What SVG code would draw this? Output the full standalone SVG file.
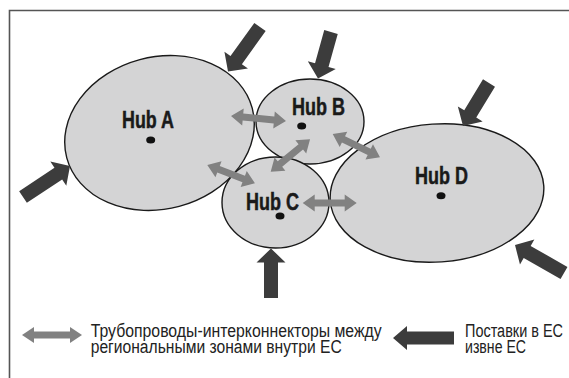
<svg xmlns="http://www.w3.org/2000/svg" width="569" height="378" viewBox="0 0 569 378">
<style>
.hub{fill:#d4d4d5;stroke:#1a1a1a;stroke-width:1.4}
.dot{fill:#111}
.lbl{font-family:"Liberation Sans","DejaVu Sans",sans-serif;font-weight:bold;font-size:23px;fill:#1a1a1a;stroke:#1a1a1a;stroke-width:0.5}
.leg{font-family:"Liberation Sans","DejaVu Sans",sans-serif;font-size:18px;fill:#222}
.pipe{fill:#818181}
.sup{fill:#3c3c3c}
</style>
<rect width="569" height="378" fill="#fff"/>
<path d="M9.5,378 V10.5 H569" fill="none" stroke="#555" stroke-width="1.6"/>
<g id="hubA"><ellipse class="hub" cx="159.5" cy="133" rx="96" ry="76" transform="rotate(-15 159.5 133)"/><ellipse class="dot" cx="150.7" cy="140" rx="4.5" ry="3.5"/><text class="lbl" x="122" y="128" textLength="52" lengthAdjust="spacingAndGlyphs">Hub A</text></g>
<g id="hubB"><ellipse class="hub" cx="310" cy="121.5" rx="54" ry="42.5"/><ellipse class="dot" cx="301.7" cy="126" rx="4.5" ry="3.5"/><text class="lbl" x="292" y="115" textLength="53" lengthAdjust="spacingAndGlyphs">Hub B</text></g>
<g id="hubC"><ellipse class="hub" cx="275.5" cy="202.5" rx="53.5" ry="45.5"/><ellipse class="dot" cx="280" cy="216" rx="4.5" ry="3.5"/><text class="lbl" x="246" y="210" textLength="53" lengthAdjust="spacingAndGlyphs">Hub C</text></g>
<g id="hubD"><ellipse class="hub" cx="437" cy="193" rx="107" ry="69" transform="rotate(-4 437 193)"/><ellipse class="dot" cx="441" cy="195.7" rx="4.5" ry="3.5"/><text class="lbl" x="415" y="184" textLength="53" lengthAdjust="spacingAndGlyphs">Hub D</text></g>
<g id="connectors">
<g transform="translate(231,116) rotate(5.2)"><polygon class="pipe" points="0,0 12,-8.5 12,-3.5 43.2,-3.5 43.2,-8.5 55.2,0 43.2,8.5 43.2,3.5 12,3.5 12,8.5"/></g>
<g transform="translate(207.3,165) rotate(21)"><polygon class="pipe" points="0,0 12,-8.5 12,-3.5 39,-3.5 39,-8.5 51,0 39,8.5 39,3.5 12,3.5 12,8.5"/></g>
<g transform="translate(270.7,171.7) rotate(-39.5)"><polygon class="pipe" points="0,0 12,-8.5 12,-3.5 39,-3.5 39,-8.5 51,0 39,8.5 39,3.5 12,3.5 12,8.5"/></g>
<g transform="translate(332.7,134) rotate(26.2)"><polygon class="pipe" points="0,0 12,-8.5 12,-3.5 40.7,-3.5 40.7,-8.5 52.7,0 40.7,8.5 40.7,3.5 12,3.5 12,8.5"/></g>
<g transform="translate(302.7,203)"><polygon class="pipe" points="0,0 12,-8.5 12,-3.5 42,-3.5 42,-8.5 54,0 42,8.5 42,3.5 12,3.5 12,8.5"/></g>
<g transform="translate(260,27) rotate(125.7)"><polygon class="sup" points="0,-7 40.8,-7 40.8,-14.5 54.8,0 40.8,14.5 40.8,7 0,7"/></g>
<g transform="translate(23,197) rotate(-33.4)"><polygon class="sup" points="0,-7 42.3,-7 42.3,-14.5 56.3,0 42.3,14.5 42.3,7 0,7"/></g>
<g transform="translate(331,32) rotate(105.6)"><polygon class="sup" points="0,-7 34.3,-7 34.3,-14.5 48.3,0 34.3,14.5 34.3,7 0,7"/></g>
<g transform="translate(489,83) rotate(121.2)"><polygon class="sup" points="0,-7 36.2,-7 36.2,-14.5 50.2,0 36.2,14.5 36.2,7 0,7"/></g>
<g transform="translate(564,273) rotate(-150.3)"><polygon class="sup" points="0,-7 42.4,-7 42.4,-14.5 56.4,0 42.4,14.5 42.4,7 0,7"/></g>
<g transform="translate(271,298) rotate(-90)"><polygon class="sup" points="0,-7 35.5,-7 35.5,-14.5 49.5,0 35.5,14.5 35.5,7 0,7"/></g>
</g>
<g id="legend">
<polygon class="pipe" points="22,335 34,327 34,331.5 70,331.5 70,327 82,335 70,343 70,338.5 34,338.5 34,343"/>
<text class="leg" x="90.7" y="336.7" textLength="291" lengthAdjust="spacingAndGlyphs">Трубопроводы-интерконнекторы между</text>
<text class="leg" x="90.7" y="353.3" textLength="251" lengthAdjust="spacingAndGlyphs">региональными зонами внутри ЕС</text>
<polygon class="sup" points="454,331.5 407,331.5 407,326 393,338 407,350 407,344.5 454,344.5"/>
<text class="leg" x="465" y="336.7" textLength="98" lengthAdjust="spacingAndGlyphs">Поставки в ЕС</text>
<text class="leg" x="465" y="353.3" textLength="61" lengthAdjust="spacingAndGlyphs">извне ЕС</text>
</g>
</svg>
